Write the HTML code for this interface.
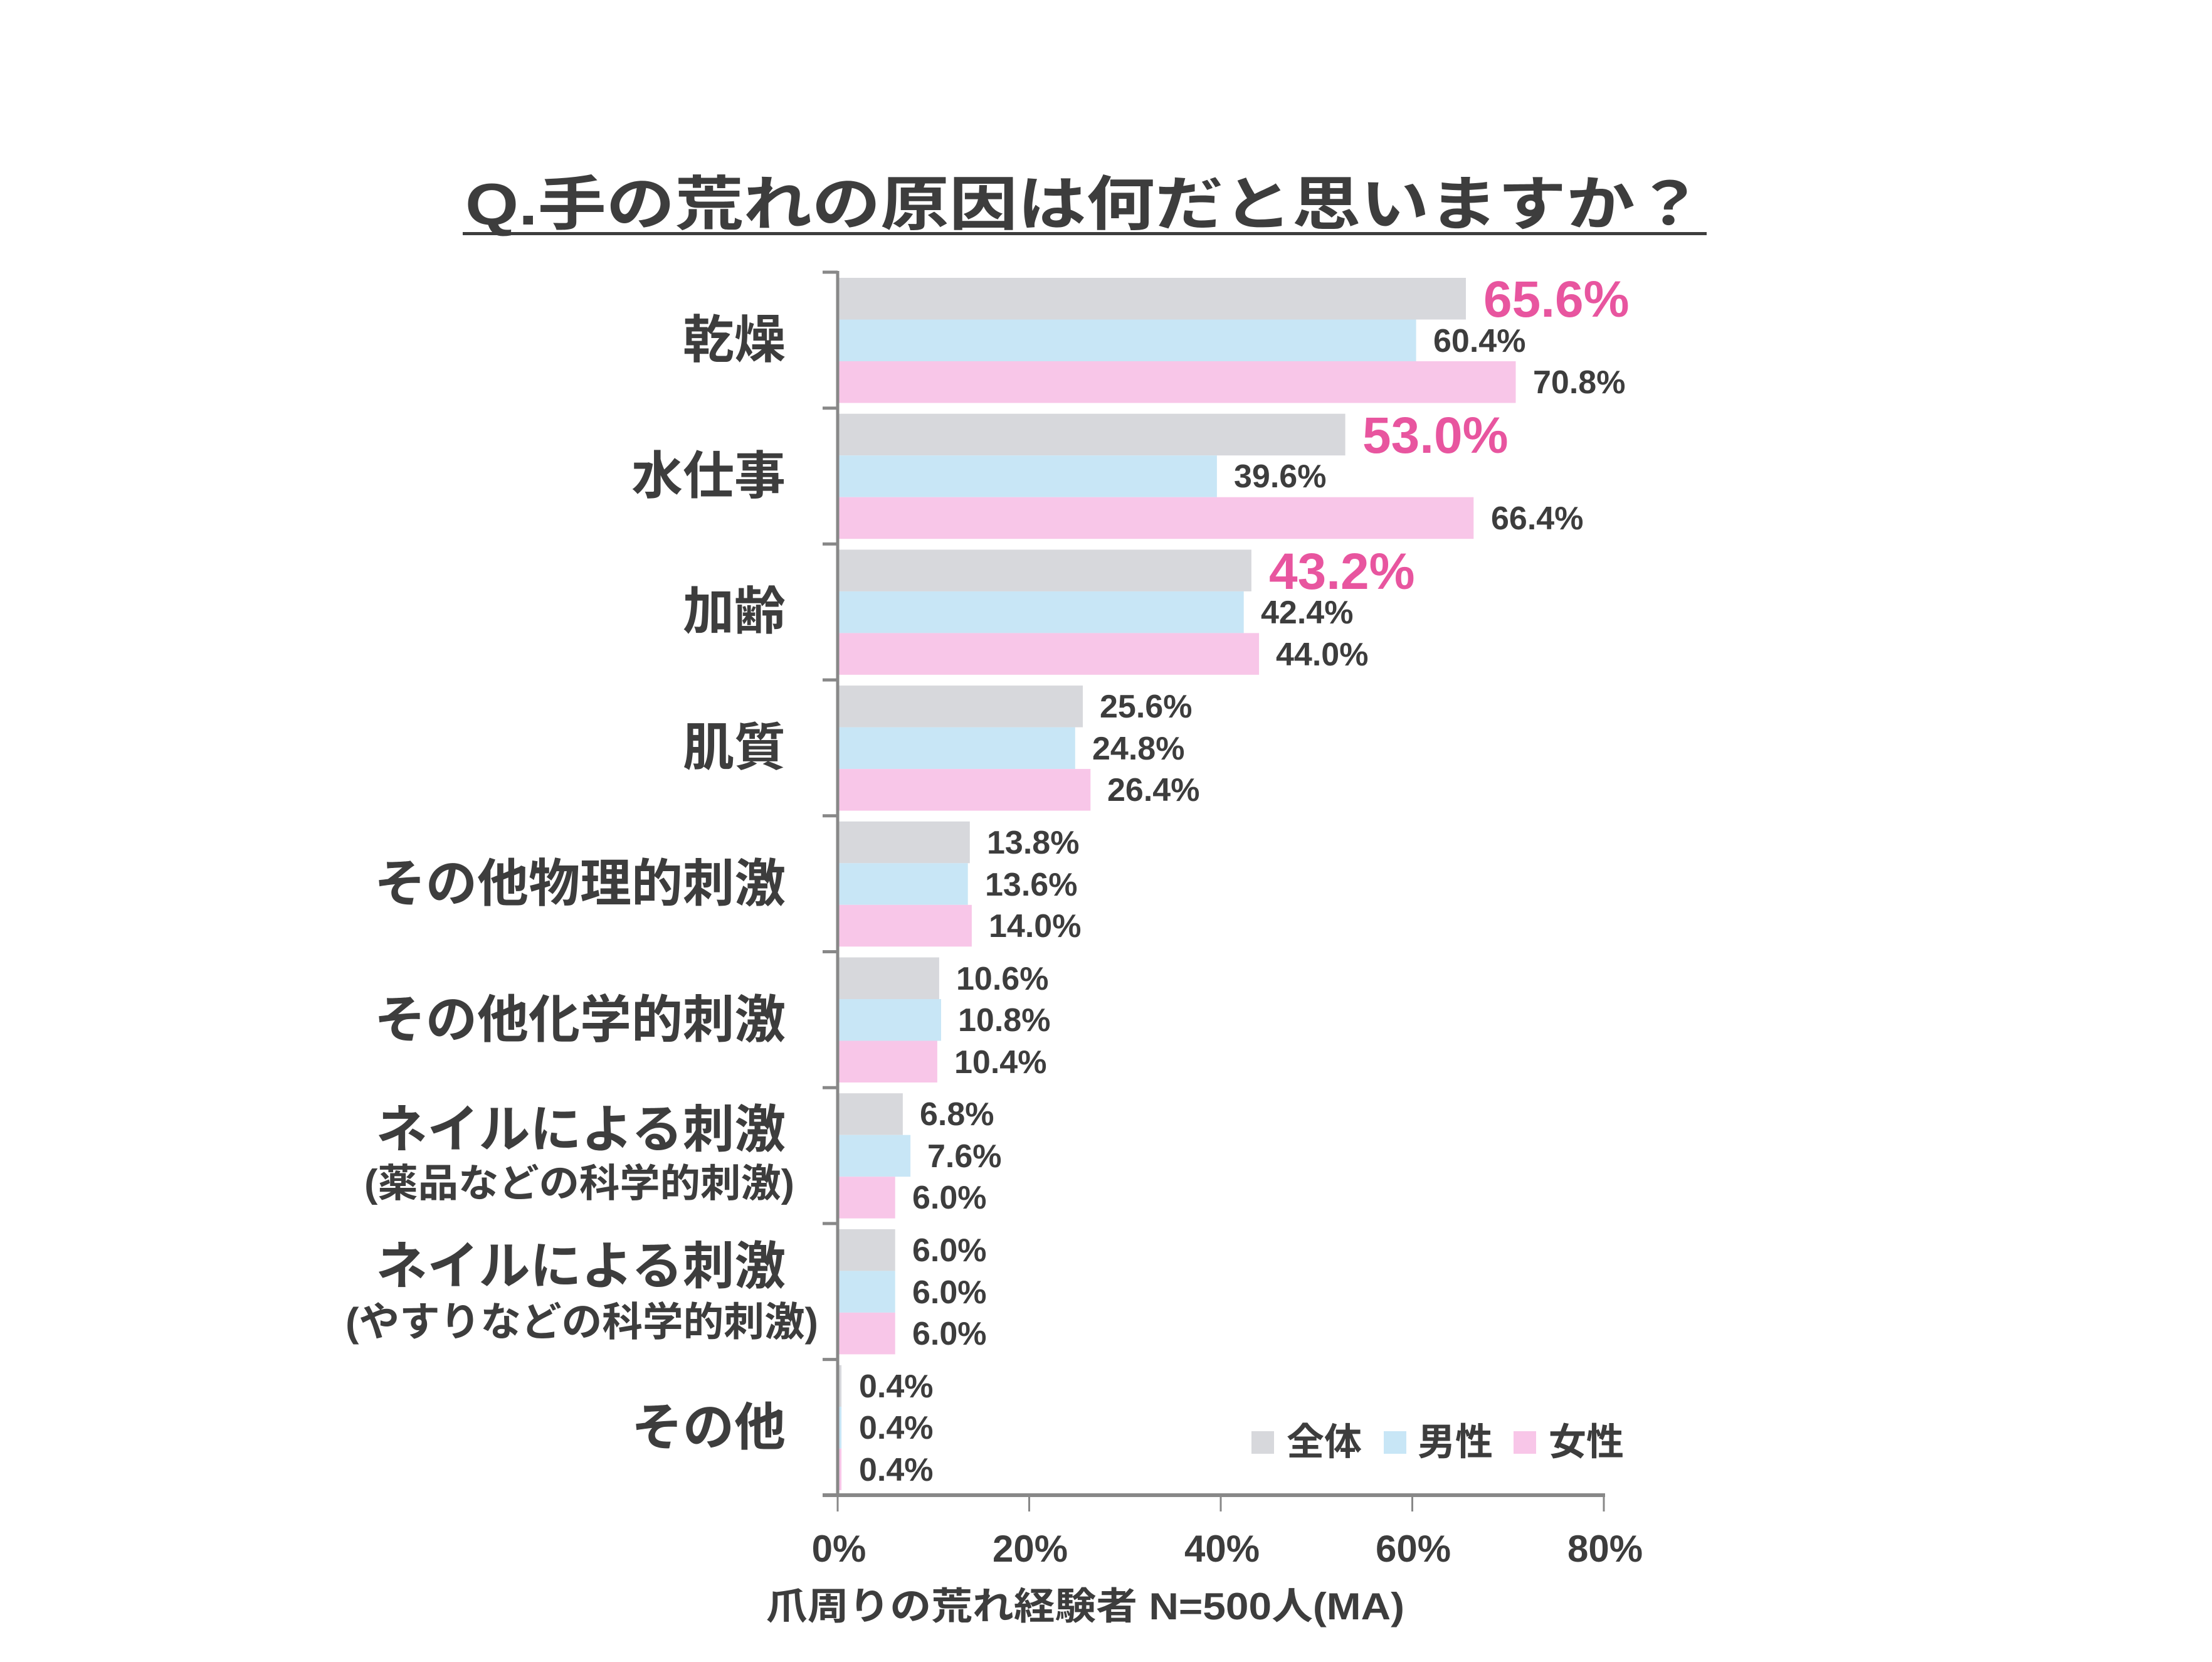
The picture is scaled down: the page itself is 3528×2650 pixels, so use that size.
<!DOCTYPE html>
<html><head><meta charset="utf-8"><style>
html,body{margin:0;padding:0;background:#fff;}
svg{display:block;}
text{font-family:"Liberation Sans","Noto Sans CJK JP",sans-serif;font-weight:bold;fill:#3d3d3d;}
.v{font-size:52px;}
.h{font-size:82px;fill:#e8559f;}
.c{font-size:82px;text-anchor:end;}
.t{font-size:60px;text-anchor:middle;}
</style></head><body>
<svg width="3528" height="2650" viewBox="0 0 3528 2650" xmlns="http://www.w3.org/2000/svg">
<rect width="3528" height="2650" fill="#fff"/>
<text x="742" y="358" style="font-size:94px" textLength="1975" lengthAdjust="spacingAndGlyphs">Q.手の荒れの原因は何だと思いますか？</text>
<rect x="738" y="370" width="1984" height="5" fill="#3d3d3d"/>

<g>
<rect x="1336" y="443" width="1002" height="66.5" fill="#d7d8dc"/>
<rect x="1336" y="509.5" width="922.6" height="66.5" fill="#c8e6f6"/>
<rect x="1336" y="576" width="1081.5" height="66.5" fill="#f8c6e8"/>

<rect x="1336" y="659.7" width="809.6" height="66.5" fill="#d7d8dc"/>
<rect x="1336" y="726.2" width="604.9" height="66.5" fill="#c8e6f6"/>
<rect x="1336" y="792.7" width="1014.3" height="66.5" fill="#f8c6e8"/>

<rect x="1336" y="876.4" width="659.9" height="66.5" fill="#d7d8dc"/>
<rect x="1336" y="942.9" width="647.7" height="66.5" fill="#c8e6f6"/>
<rect x="1336" y="1009.4" width="672.1" height="66.5" fill="#f8c6e8"/>

<rect x="1336" y="1093.1" width="391" height="66.5" fill="#d7d8dc"/>
<rect x="1336" y="1159.6" width="378.8" height="66.5" fill="#c8e6f6"/>
<rect x="1336" y="1226.1" width="403.3" height="66.5" fill="#f8c6e8"/>

<rect x="1336" y="1309.8" width="210.8" height="66.5" fill="#d7d8dc"/>
<rect x="1336" y="1376.3" width="207.7" height="66.5" fill="#c8e6f6"/>
<rect x="1336" y="1442.8" width="213.9" height="66.5" fill="#f8c6e8"/>

<rect x="1336" y="1526.5" width="161.9" height="66.5" fill="#d7d8dc"/>
<rect x="1336" y="1593" width="165" height="66.5" fill="#c8e6f6"/>
<rect x="1336" y="1659.5" width="158.9" height="66.5" fill="#f8c6e8"/>

<rect x="1336" y="1743.2" width="103.9" height="66.5" fill="#d7d8dc"/>
<rect x="1336" y="1809.7" width="116.1" height="66.5" fill="#c8e6f6"/>
<rect x="1336" y="1876.2" width="91.7" height="66.5" fill="#f8c6e8"/>

<rect x="1336" y="1959.9" width="91.7" height="66.5" fill="#d7d8dc"/>
<rect x="1336" y="2026.4" width="91.7" height="66.5" fill="#c8e6f6"/>
<rect x="1336" y="2092.9" width="91.7" height="66.5" fill="#f8c6e8"/>

<rect x="1336" y="2176.6" width="6.1" height="66.5" fill="#d7d8dc"/>
<rect x="1336" y="2243.1" width="6.1" height="66.5" fill="#c8e6f6"/>
<rect x="1336" y="2309.6" width="6.1" height="66.5" fill="#f8c6e8"/>
</g>

<text class="h" x="2366" y="505">65.6%</text>
<text class="v" x="2286" y="561">60.4%</text>
<text class="v" x="2445" y="627">70.8%</text>

<text class="h" x="2173" y="722">53.0%</text>
<text class="v" x="1968" y="777">39.6%</text>
<text class="v" x="2378" y="844">66.4%</text>

<text class="h" x="2024" y="939">43.2%</text>
<text class="v" x="2011" y="994">42.4%</text>
<text class="v" x="2035" y="1061">44.0%</text>

<text class="v" x="1754" y="1144">25.6%</text>
<text class="v" x="1742" y="1211">24.8%</text>
<text class="v" x="1766" y="1277">26.4%</text>

<text class="v" x="1574" y="1361">13.8%</text>
<text class="v" x="1571" y="1428">13.6%</text>
<text class="v" x="1577" y="1494">14.0%</text>

<text class="v" x="1525" y="1578">10.6%</text>
<text class="v" x="1528" y="1644">10.8%</text>
<text class="v" x="1522" y="1711">10.4%</text>

<text class="v" x="1467" y="1794">6.8%</text>
<text class="v" x="1479" y="1861">7.6%</text>
<text class="v" x="1455" y="1927">6.0%</text>

<text class="v" x="1455" y="2011">6.0%</text>
<text class="v" x="1455" y="2078">6.0%</text>
<text class="v" x="1455" y="2144">6.0%</text>

<text class="v" x="1370" y="2228">0.4%</text>
<text class="v" x="1370" y="2294">0.4%</text>
<text class="v" x="1370" y="2361">0.4%</text>

<g stroke="#888" fill="none">
<line x1="1336" y1="432" x2="1336" y2="2384" stroke-width="5"/>
<line x1="1312" y1="434" x2="1336" y2="434" stroke-width="5"/>
<line x1="1312" y1="650.7" x2="1336" y2="650.7" stroke-width="5"/>
<line x1="1312" y1="867.4" x2="1336" y2="867.4" stroke-width="5"/>
<line x1="1312" y1="1084.1" x2="1336" y2="1084.1" stroke-width="5"/>
<line x1="1312" y1="1300.8" x2="1336" y2="1300.8" stroke-width="5"/>
<line x1="1312" y1="1517.5" x2="1336" y2="1517.5" stroke-width="5"/>
<line x1="1312" y1="1734.2" x2="1336" y2="1734.2" stroke-width="5"/>
<line x1="1312" y1="1950.9" x2="1336" y2="1950.9" stroke-width="5"/>
<line x1="1312" y1="2167.6" x2="1336" y2="2167.6" stroke-width="5"/>
<line x1="1312" y1="2384" x2="2560" y2="2384" stroke-width="6"/>
<line x1="1336" y1="2384" x2="1336" y2="2410" stroke-width="3"/>
<line x1="1641.5" y1="2384" x2="1641.5" y2="2410" stroke-width="3"/>
<line x1="1947" y1="2384" x2="1947" y2="2410" stroke-width="3"/>
<line x1="2252.5" y1="2384" x2="2252.5" y2="2410" stroke-width="3"/>
<line x1="2558" y1="2384" x2="2558" y2="2410" stroke-width="3"/>
</g>

<text class="c" x="1253" y="570">乾燥</text>
<text class="c" x="1253" y="787">水仕事</text>
<text class="c" x="1253" y="1003">加齢</text>
<text class="c" x="1253" y="1220">肌質</text>
<text class="c" x="1253" y="1437">その他物理的刺激</text>
<text class="c" x="1253" y="1654">その他化学的刺激</text>
<text class="c" x="1253" y="1829">ネイルによる刺激</text>
<text x="581" y="1908" style="font-size:62px" textLength="686" lengthAdjust="spacingAndGlyphs">(薬品などの科学的刺激)</text>
<text class="c" x="1253" y="2047">ネイルによる刺激</text>
<text x="551" y="2130" style="font-size:64px" textLength="754" lengthAdjust="spacingAndGlyphs">(やすりなどの科学的刺激)</text>
<text class="c" x="1253" y="2304">その他</text>

<rect x="1996" y="2282" width="36" height="36" fill="#d7d8dc"/>
<text x="2052" y="2320" style="font-size:60px">全体</text>
<rect x="2207" y="2282" width="36" height="36" fill="#c8e6f6"/>
<text x="2261" y="2320" style="font-size:60px">男性</text>
<rect x="2414" y="2282" width="36" height="36" fill="#f8c6e8"/>
<text x="2470" y="2320" style="font-size:60px">女性</text>

<text class="t" x="1338" y="2490">0%</text>
<text class="t" x="1643" y="2490">20%</text>
<text class="t" x="1949" y="2490">40%</text>
<text class="t" x="2254" y="2490">60%</text>
<text class="t" x="2560" y="2490">80%</text>

<text x="1222" y="2582" style="font-size:60px" textLength="1018" lengthAdjust="spacingAndGlyphs">爪周りの荒れ経験者 N=500人(MA)</text>
</svg>
</body></html>
